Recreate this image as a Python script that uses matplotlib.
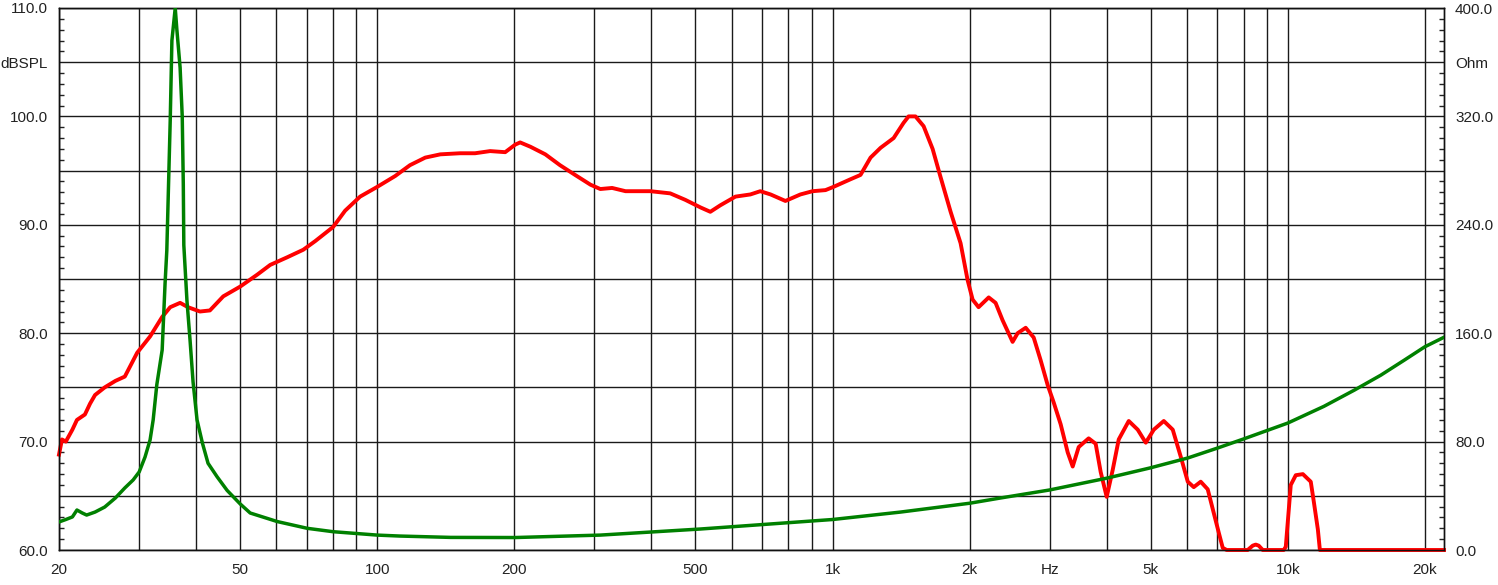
import matplotlib.pyplot as plt
from matplotlib.ticker import FixedLocator, MultipleLocator

plt.rcParams['font.family'] = ['Liberation Sans', 'DejaVu Sans']

# SPL response (red), dB
spl_freq = [20.0, 20.3, 20.7, 21.4, 21.9, 22.8, 23.4, 24.0, 25.2, 26.6, 27.9, 29.7,
            31.7, 33.7, 35.1, 36.9, 38.4, 40.8, 42.9, 45.9, 50.0, 54.5, 58.2, 63.4,
            68.8, 73.1, 80.0, 85.0, 91.7, 100, 109.5, 118, 127.5, 137.6, 152, 164,
            177, 191, 201, 206, 217, 234, 252, 272, 294, 309, 328, 351, 398, 440,
            475, 513, 539, 567, 612, 660, 694, 731, 788, 850, 904, 965, 1005, 1095,
            1152, 1212, 1275, 1362, 1432, 1469, 1521, 1585, 1659, 1727, 1817, 1911,
            1980, 2031, 2093, 2203, 2281, 2363, 2486, 2550, 2656, 2766, 2865, 2969,
            3061, 3170, 3285, 3369, 3473, 3652, 3784, 3881, 4001, 4125, 4252, 4473,
            4681, 4875, 5077, 5340, 5588, 5819, 6029, 6214, 6437, 6669, 6876, 7052,
            7195, 7341, 8163, 8373, 8501, 8632, 8809, 9797, 9897, 10150, 10410,
            10790, 11230, 11400, 11640, 11760, 22030]
spl_db = [68.8, 70.2, 70.0, 71.1, 72.0, 72.5, 73.5, 74.3, 75.0, 75.6, 76.0, 78.2,
          79.7, 81.5, 82.4, 82.8, 82.4, 82.0, 82.1, 83.4, 84.3, 85.4, 86.3, 87.0,
          87.7, 88.5, 89.8, 91.3, 92.6, 93.5, 94.5, 95.5, 96.2, 96.5, 96.6, 96.6,
          96.8, 96.7, 97.4, 97.6, 97.2, 96.5, 95.5, 94.6, 93.7, 93.3, 93.4, 93.1,
          93.1, 92.9, 92.3, 91.6, 91.2, 91.8, 92.6, 92.8, 93.1, 92.8, 92.2, 92.8,
          93.1, 93.2, 93.5, 94.2, 94.6, 96.2, 97.1, 98.0, 99.4, 100.0, 100.0, 99.1,
          97.0, 94.4, 91.2, 88.3, 84.9, 83.1, 82.4, 83.3, 82.8, 81.2, 79.2, 80.0,
          80.5, 79.6, 77.5, 75.2, 73.6, 71.6, 69.0, 67.7, 69.5, 70.3, 69.8, 67.2,
          64.9, 67.4, 70.2, 71.9, 71.1, 69.9, 71.1, 71.9, 71.1, 68.6, 66.3, 65.8,
          66.3, 65.6, 63.4, 61.6, 60.2, 60.0, 60.0, 60.4, 60.5, 60.4, 60.0, 60.0,
          60.3, 66.0, 66.9, 67.0, 66.3, 64.5, 61.9, 60.0, 60.0]

# Impedance (green), Ohm
imp_freq = [20.0, 20.7, 21.4, 21.9, 22.5, 23.0, 24.0, 25.2, 26.6, 27.9, 29.1, 30.0,
            30.9, 31.7, 32.2, 32.8, 33.7, 34.2, 34.5, 35.1, 35.4, 36.0, 36.3, 36.9,
            37.3, 37.5, 37.6, 38.2, 38.8, 39.4, 40.2, 41.3, 42.5, 44.5, 46.8, 50.0,
            52.6, 60.3, 70.2, 80.0, 100, 112, 145, 201, 309, 513, 1000, 1411, 2000,
            2340, 2998, 4001, 4973, 6029, 7016, 8003, 10000, 12000, 14000, 16000,
            18000, 20000, 22030]
imp_ohm = [20.7, 22.5, 24.4, 29.5, 27.3, 25.8, 28.0, 31.7, 38.4, 45.8, 51.7, 57.6,
           68.6, 81.2, 96.0, 122, 147.6, 197, 221, 317, 376, 400, 384, 356,
           320, 270, 225, 184, 155, 124, 96, 79, 64, 54, 44, 34,
           27.3, 21, 16, 13.5, 11, 10.3, 9.3, 9.2, 11, 15.5, 22.5, 28, 34.5,
           38.4, 44.3, 53, 60.5, 67.9, 75.3, 82, 93.7, 106, 118, 129,
           140, 150, 157]

x_grid = [20, 30, 40, 50, 60, 70, 80, 90, 100, 200, 300, 400, 500, 600, 700, 800,
          900, 1000, 2000, 3000, 4000, 5000, 6000, 7000, 8000, 9000, 10000, 20000]
x_labels = ['20', '', '', '50', '', '', '', '', '100', '200', '', '', '500', '', '',
            '', '', '1k', '2k', 'Hz', '', '5k', '', '', '', '', '10k', '20k']
db_ticks = [60, 65, 70, 75, 80, 85, 90, 95, 100, 105, 110]
db_labels = ['60.0', '', '70.0', '', '80.0', '', '90.0', '', '100.0', 'dBSPL', '110.0']
ohm_ticks = [0, 40, 80, 120, 160, 200, 240, 280, 320, 360, 400]
ohm_labels = ['0.0', '', '80.0', '', '160.0', '', '240.0', '', '320.0', 'Ohm', '400.0']

txt = '#222222'

fig = plt.figure(figsize=(14.98, 5.85), dpi=100)
ax = fig.add_axes([59 / 1498, 1 - 550 / 585, (1444 - 59) / 1498, (550 - 8) / 585])
ax.set_xscale('log')
ax.set_xlim(20, 22030)
ax.set_ylim(60, 110)

ax.xaxis.set_major_locator(FixedLocator(x_grid))
ax.set_xticklabels(x_labels)
ax.xaxis.set_minor_locator(FixedLocator([]))
ax.set_yticks(db_ticks)
ax.set_yticklabels(db_labels)
ax.yaxis.set_minor_locator(MultipleLocator(1))
ax.grid(True, which='major', color='#1a1a1a', lw=1.0)
ax.tick_params(axis='x', which='major', length=0, pad=9, labelsize=11, labelcolor=txt)
ax.tick_params(axis='y', which='major', length=0, pad=8, labelsize=11, labelcolor=txt)
ax.tick_params(axis='y', which='minor', direction='in', length=3.5, width=1, color='#222')

ax2 = ax.twinx()
ax2.set_ylim(0, 400)
ax2.set_yticks(ohm_ticks)
ax2.set_yticklabels(ohm_labels)
ax2.yaxis.set_minor_locator(MultipleLocator(8))
ax2.tick_params(axis='y', which='major', length=0, pad=8, labelsize=11, labelcolor=txt)
ax2.tick_params(axis='y', which='minor', direction='in', length=3.5, width=1, color='#222')

# red drawn on ax2 scale so it shares layer order with green (green on top)
ax2.plot(spl_freq, [(v - 60) * 8 for v in spl_db], color='#ff0000', lw=2.8,
         solid_joinstyle='round', clip_on=False, zorder=2)
ax2.plot(imp_freq, imp_ohm, color='#008000', lw=2.5, solid_joinstyle='round', zorder=3)

for a in (ax, ax2):
    for s in a.spines.values():
        s.set_color('#111111')
        s.set_linewidth(1.0)

fig.savefig('out.png', dpi=100)
